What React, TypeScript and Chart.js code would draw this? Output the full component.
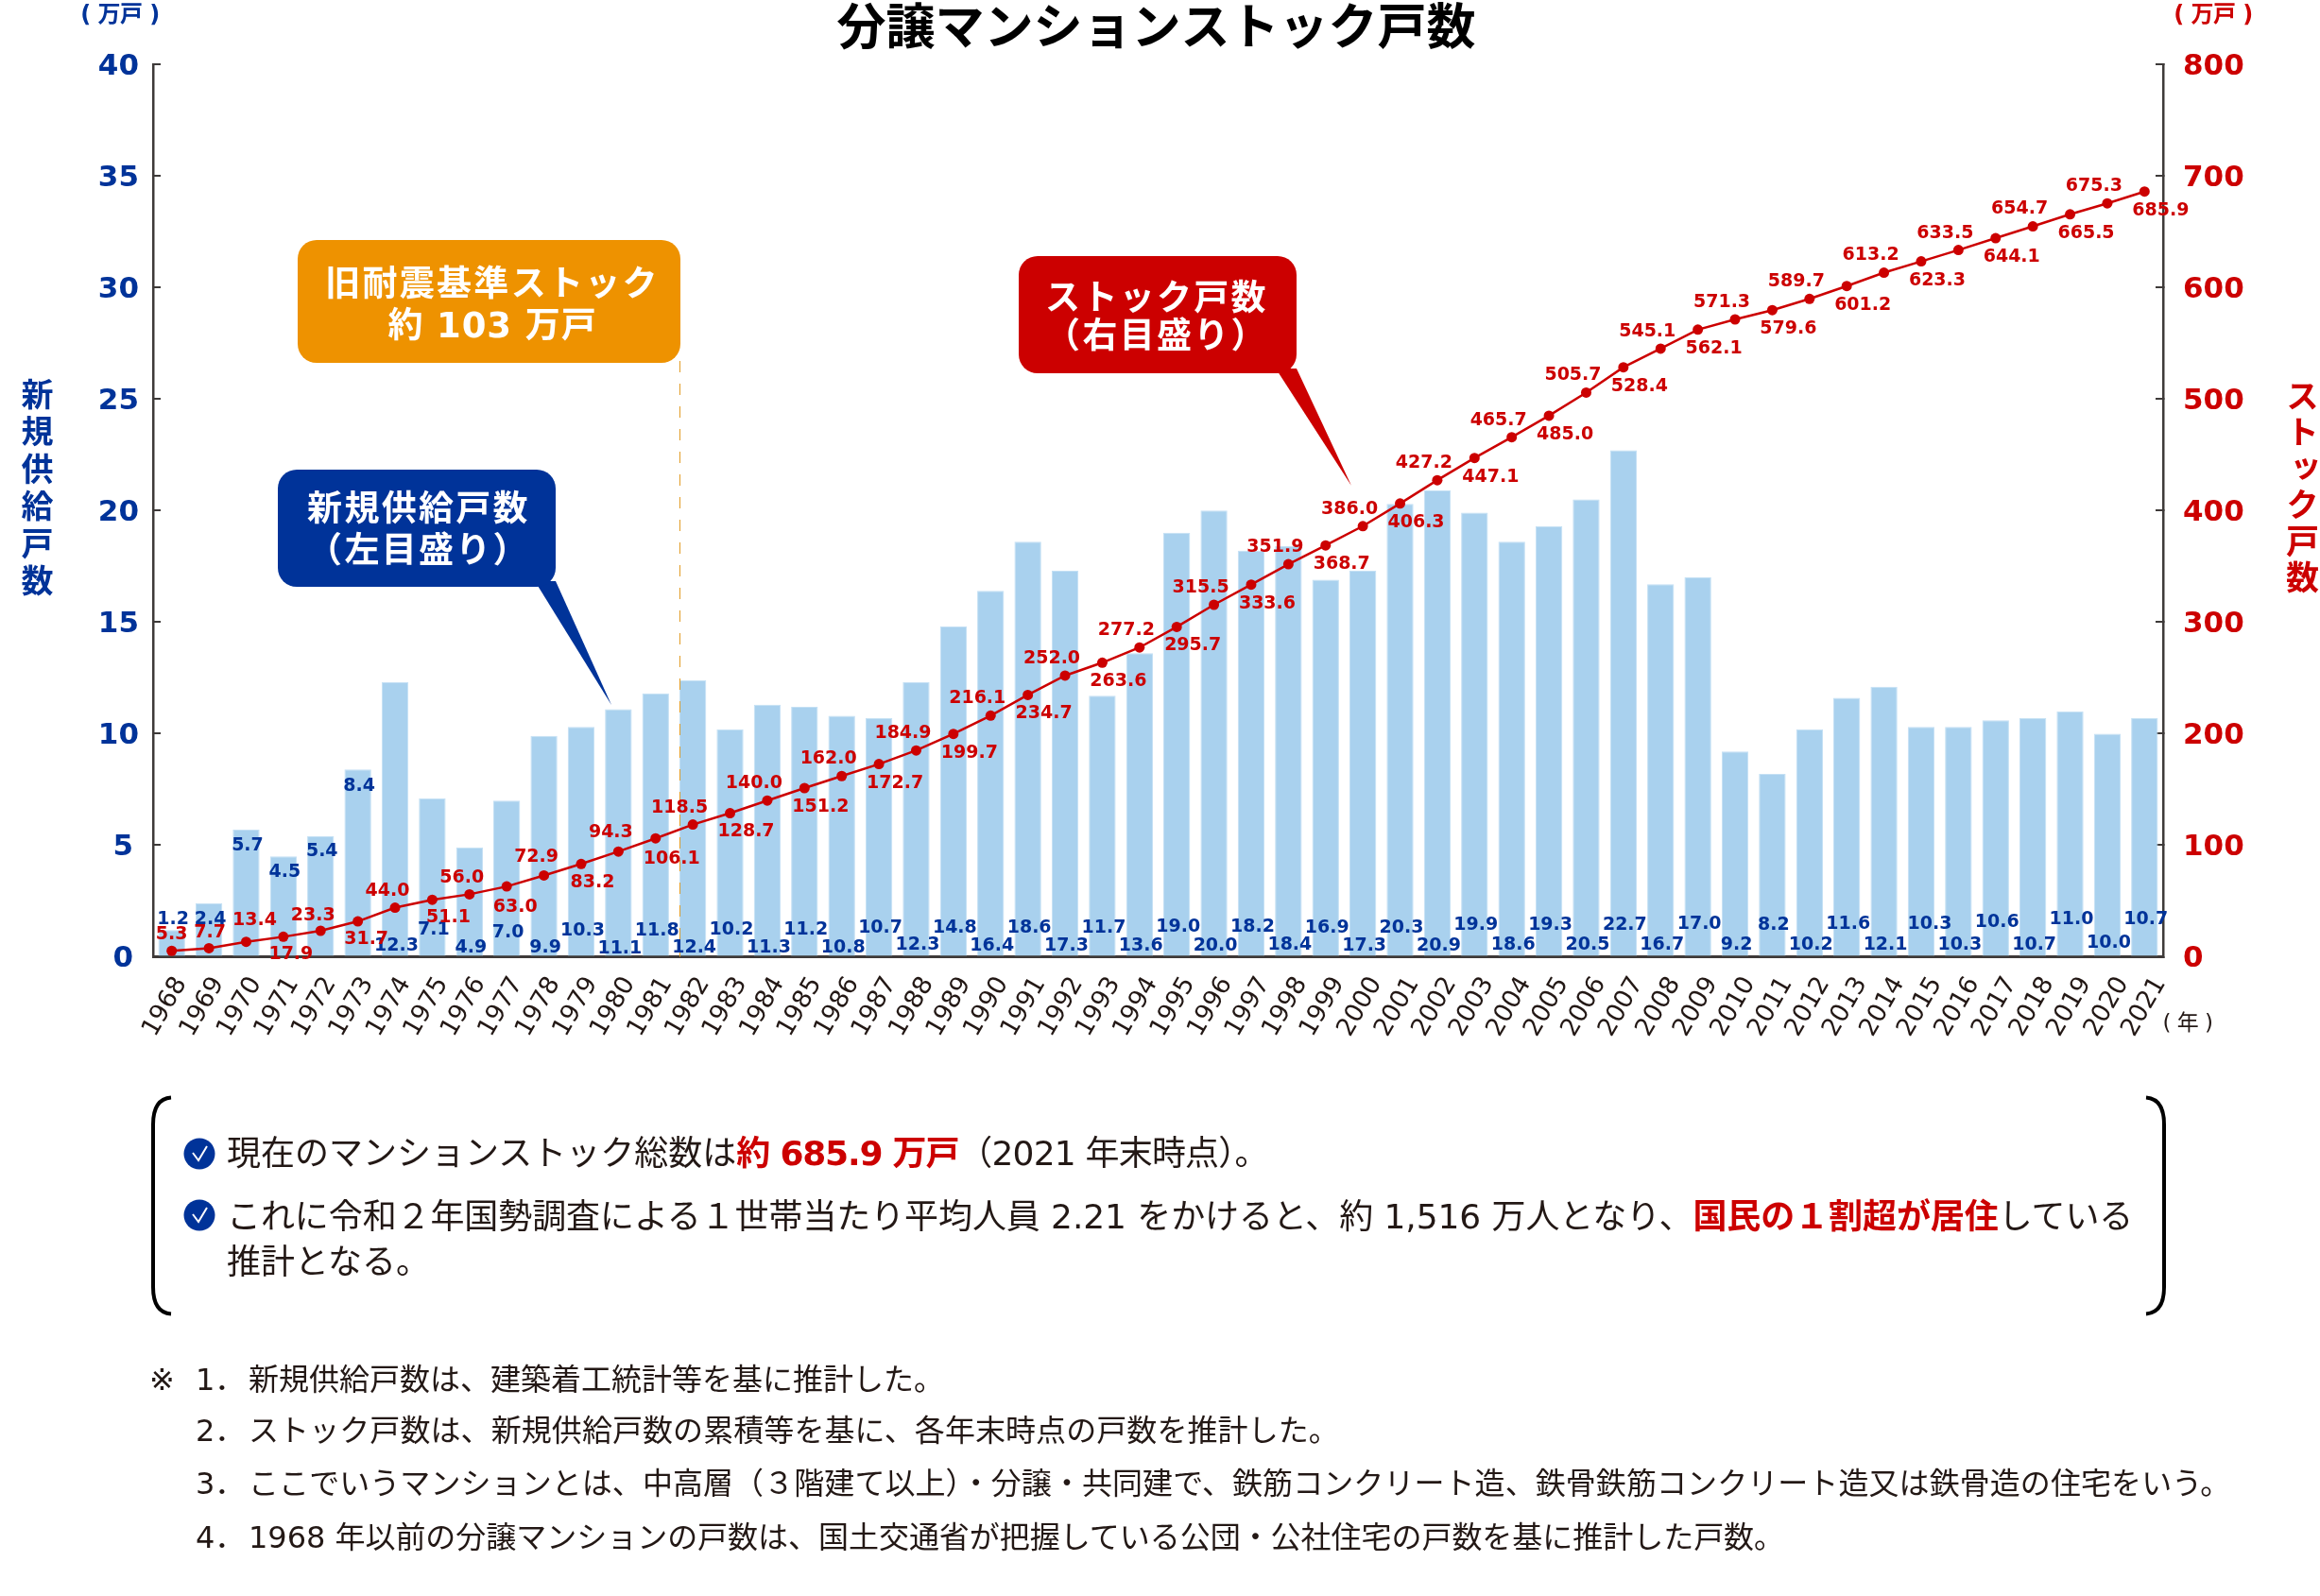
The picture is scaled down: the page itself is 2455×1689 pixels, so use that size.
import React, { useEffect, useRef } from "react";
import { Chart, registerables } from "chart.js";

Chart.register(...registerables);

const years = ["1968","1969","1970","1971","1972","1973","1974","1975","1976","1977","1978","1979","1980","1981","1982","1983","1984","1985","1986","1987","1988","1989","1990","1991","1992","1993","1994","1995","1996","1997","1998","1999","2000","2001","2002","2003","2004","2005","2006","2007","2008","2009","2010","2011","2012","2013","2014","2015","2016","2017","2018","2019","2020","2021"];
const newSupply = [1.2,2.4,5.7,4.5,5.4,8.4,12.3,7.1,4.9,7.0,9.9,10.3,11.1,11.8,12.4,10.2,11.3,11.2,10.8,10.7,12.3,14.8,16.4,18.6,17.3,11.7,13.6,19.0,20.0,18.2,18.4,16.9,17.3,20.3,20.9,19.9,18.6,19.3,20.5,22.7,16.7,17.0,9.2,8.2,10.2,11.6,12.1,10.3,10.3,10.6,10.7,11.0,10.0,10.7];
const stock = [5.3,7.7,13.4,17.9,23.3,31.7,44.0,51.1,56.0,63.0,72.9,83.2,94.3,106.1,118.5,128.7,140.0,151.2,162.0,172.7,184.9,199.7,216.1,234.7,252.0,263.6,277.2,295.7,315.5,333.6,351.9,368.7,386.0,406.3,427.2,447.1,465.7,485.0,505.7,528.4,545.1,562.1,571.3,579.6,589.7,601.2,613.2,623.3,633.5,644.1,654.7,665.5,675.3,685.9];

// Label placement (not data): lift of each blue label above the baseline, in px
const barLabelLift = [39,39,117,89,111,180,11,28,9,25,9,27,8,27,9,28,9,28,9,30,12,30,11,30,11,30,11,31,11,31,12,30,11,30,11,33,12,33,12,33,12,34,12,33,12,34,12,34,12,36,12,39,14,39];
// Label placement: offsets of the first red labels from their points, in px
const stockLabelEarly = [[0,-17],[1,-16],[9,-23],[8,19],[-8,-16],[9,19],[-8,-17],[17,19],[-8,-17],[9,22],[-8,-19],[12,20],[-8,-20],[17,22]];

const LATIN_JP = '"DejaVu Sans","Noto Sans CJK JP"';
const BLUE = "#003399";
const RED = "#CC0000";
const ORANGE = "#EE9200";
const INK = "#231815";

function roundBox(ctx: CanvasRenderingContext2D, x: number, y: number, w: number, h: number, r: number, color: string) {
  ctx.fillStyle = color;
  ctx.beginPath();
  ctx.roundRect(x, y, w, h, r);
  ctx.fill();
}
function tail(ctx: CanvasRenderingContext2D, pts: number[][], color: string) {
  ctx.fillStyle = color;
  ctx.beginPath();
  pts.forEach((p, i) => (i ? ctx.lineTo(p[0], p[1]) : ctx.moveTo(p[0], p[1])));
  ctx.closePath();
  ctx.fill();
}
function boxText(ctx: CanvasRenderingContext2D, lines: string[], cx: number, ys: number[], size: number, spacing: number[] = [2.3, 2.3]) {
  ctx.fillStyle = "#fff";
  ctx.font = `bold ${size}px ${LATIN_JP}`;
  ctx.textAlign = "center";
  ctx.textBaseline = "middle";
  lines.forEach((l, i) => {
    (ctx as any).letterSpacing = `${spacing[i]}px`;
    ctx.fillText(l, cx, ys[i]);
  });
  (ctx as any).letterSpacing = "0px";
}

// nudges axis tick labels relative to their default anchor
function nudgeLabels(s: any, shift: (label: string, i: number) => number[]) {
  if (s.__nudged) return;
  s.__nudged = true;
  const orig = s._computeLabelItems.bind(s);
  s._computeLabelItems = (ca: any) => {
    const items = orig(ca);
    items.forEach((it: any, i: number) => {
      const [dx, dy] = shift(String(it.label), i);
      it.options.translation[0] += dx;
      it.options.translation[1] += dy;
    });
    return items;
  };
}

const annotations = {
  id: "annotations",
  afterDatasetsDraw(chart: any) {
    const { ctx, scales } = chart;
    const xs = scales.x, yL = scales.y, yR = scales.y1;
    ctx.save();
    // dashed marker for the 1982 boundary
    const dashX = Math.round(xs.getPixelForValue(14) - 14) + 0.5;
    ctx.strokeStyle = "#E29C25";
    ctx.lineWidth = 1;
    ctx.setLineDash([12, 12]);
    ctx.beginPath();
    ctx.moveTo(dashX, 382);
    ctx.lineTo(dashX, yL.getPixelForValue(0));
    ctx.stroke();
    ctx.setLineDash([]);

    // data labels
    ctx.font = `bold 19px ${LATIN_JP}`;
    ctx.textAlign = "center";
    ctx.textBaseline = "middle";
    ctx.fillStyle = BLUE;
    newSupply.forEach((v, i) => {
      const dx = i === 47 ? 9 : 1.5;
      ctx.fillText(v.toFixed(1), xs.getPixelForValue(i) + dx, yL.getPixelForValue(0) - barLabelLift[i]);
    });
    ctx.fillStyle = RED;
    stock.forEach((v, i) => {
      const off = stockLabelEarly[i] ?? (i % 2 === 0 ? [-14, -18] : [17, 20]);
      ctx.fillText(v.toFixed(1), xs.getPixelForValue(i) + off[0], yR.getPixelForValue(v) + off[1]);
    });

    // callouts
    tail(ctx, [[566, 615], [588, 615], [647, 746]], BLUE);
    roundBox(ctx, 294, 497, 294, 124, 20, BLUE);
    boxText(ctx, ["新規供給戸数", "（左目盛り）"], 443, [541.5, 585.5], 37);

    roundBox(ctx, 315, 254, 405, 130, 20, ORANGE);
    boxText(ctx, ["旧耐震基準ストック", "約 103 万戸"], 521, [303, 347], 37, [2.3, 0.9]);

    tail(ctx, [[1350, 390], [1372, 390], [1430, 514]], RED);
    roundBox(ctx, 1078, 271, 294, 124, 20, RED);
    boxText(ctx, ["ストック戸数", "（右目盛り）"], 1224, [318.5, 358.5], 37);
    ctx.restore();
  },
};

const abs = (left: number, top: number, extra: React.CSSProperties = {}): React.CSSProperties => ({
  position: "absolute",
  left,
  top,
  whiteSpace: "nowrap",
  lineHeight: 1,
  fontFamily: LATIN_JP,
  color: INK,
  ...extra,
});
const em: React.CSSProperties = { color: RED, fontWeight: 700 };

function Line({ y, x, size = 36, spacing = 0, children }: { y: number; x: number; size?: number; spacing?: number; children: React.ReactNode }) {
  return <div style={abs(x, y - size / 2, { fontSize: size, letterSpacing: spacing })}>{children}</div>;
}

function Check({ cy }: { cy: number }) {
  return (
    <g>
      <circle cx={211} cy={cy} r={16.5} fill={BLUE} />
      <path d={`M204 ${cy - 1} L210 ${cy + 7} L219 ${cy - 8}`} fill="none" stroke="#fff" strokeWidth={2} />
    </g>
  );
}

export default function App() {
  const ref = useRef<HTMLCanvasElement>(null);
  useEffect(() => {
    document.body.style.margin = "0";
    const chart = new Chart(ref.current!, {
      data: {
        labels: years,
        datasets: [
          {
            type: "line",
            label: "ストック戸数",
            data: stock,
            yAxisID: "y1",
            borderColor: RED,
            backgroundColor: RED,
            borderWidth: 2.5,
            pointRadius: 5.5,
            pointBackgroundColor: RED,
            pointBorderWidth: 0,
            tension: 0,
            order: 0,
          },
          {
            type: "bar",
            label: "新規供給戸数",
            data: newSupply,
            yAxisID: "y",
            backgroundColor: "#A9D1EE",
            borderColor: "#C4E0F4",
            borderWidth: 1,
            barPercentage: 0.72,
            categoryPercentage: 1,
            order: 1,
          },
        ],
      } as any,
      options: {
        responsive: false,
        animation: false,
        devicePixelRatio: 1,
        layout: { padding: { left: 0, right: 8, top: 0, bottom: 0 } },
        plugins: {
          legend: { display: false },
          tooltip: { enabled: false },
          title: {
            display: true,
            text: "分譲マンションストック戸数",
            color: "#000",
            font: { family: LATIN_JP, size: 52, weight: "bold", lineHeight: 1.1 },
            padding: { top: 4.5, bottom: 6.3 },
          },
        },
        scales: {
          x: {
            type: "category",
            position: "bottom",
            grid: { display: false },
            border: { display: true, color: "#3E3A39", width: 3 },
            ticks: {
              autoSkip: false,
              minRotation: 60,
              maxRotation: 60,
              padding: 8,
              color: INK,
              font: { family: LATIN_JP, size: 26.5 },
            },
            afterFit: (s: any) => {
              s.height = 676.5;
              nudgeLabels(s, (_l, i) => [10 + i * 0.125, 0]);
            },
          },
          y: {
            position: "left",
            min: 0,
            max: 40,
            grid: { drawOnChartArea: false, drawTicks: true, tickLength: -8, color: "#3E3A39", lineWidth: 2 },
            border: { display: true, color: "#3E3A39", width: 2.5 },
            ticks: { stepSize: 5, padding: 23, color: BLUE, font: { family: LATIN_JP, size: 31, weight: "bold" } },
            afterFit: (s: any) => {
              s.width = 162;
              nudgeLabels(s, (l) => [l.length === 1 ? -6 : 0, 2.5]);
            },
          },
          y1: {
            position: "right",
            min: 0,
            max: 800,
            grid: { drawOnChartArea: false, drawTicks: true, tickLength: -8, color: "#3E3A39", lineWidth: 2 },
            border: { display: true, color: "#3E3A39", width: 2.5 },
            ticks: { stepSize: 100, padding: 29, color: RED, font: { family: LATIN_JP, size: 31, weight: "bold" } },
            afterFit: (s: any) => {
              s.width = 158;
              nudgeLabels(s, () => [0, 2.5]);
            },
          },
        },
      } as any,
      plugins: [annotations],
    });
    return () => chart.destroy();
  }, []);

  return (
    <div style={{ position: "relative", width: 2455, height: 1689, overflow: "hidden", background: "#fff" }}>
      <canvas ref={ref} width={2455} height={1689} style={{ display: "block" }} />

      <div style={abs(127, 3, { transform: "translateX(-50%)", fontSize: 24, color: BLUE, fontWeight: 700, letterSpacing: -0.5 })}>( 万戸 )</div>
      <div style={abs(2342, 3, { transform: "translateX(-50%)", fontSize: 24, color: RED, fontWeight: 700, letterSpacing: -0.5 })}>( 万戸 )</div>
      <div style={abs(2315, 1071, { transform: "translateX(-50%)", fontSize: 23, letterSpacing: -0.5 })}>( 年 )</div>

      <div style={abs(20, 400, { writingMode: "vertical-rl", textOrientation: "upright", fontSize: 34, fontWeight: 700, color: BLUE, letterSpacing: 5.5 })}>新規供給戸数</div>
      <div style={abs(2415, 401, { writingMode: "vertical-rl", textOrientation: "upright", fontSize: 35, fontWeight: 700, color: RED, letterSpacing: 3.5 })}>ストック戸数</div>

      <svg width={2455} height={1689} style={{ position: "absolute", left: 0, top: 0, pointerEvents: "none" }}>
        <path d="M181 1161.5 Q162 1163 162 1190 V1362 Q162 1389 181 1390.5" fill="none" stroke="#000" strokeWidth={4} />
        <path d="M2271 1161.5 Q2290 1163 2290 1190 V1362 Q2290 1389 2271 1390.5" fill="none" stroke="#000" strokeWidth={4} />
        <Check cy={1221} />
        <Check cy={1286} />
      </svg>

      <Line x={240} y={1221}>現在のマンションストック総数は<span style={{ ...em, letterSpacing: -1.2 }}>約 685.9 万戸</span><span style={{ letterSpacing: -0.8 }}>（2021 年末時点）。</span></Line>
      <Line x={240} y={1287.5} spacing={-0.09}>これに令和２年国勢調査による１世帯当たり平均人員 2.21 をかけると、約 1,516 万人となり、<span style={em}>国民の１割超が居住</span>している</Line>
      <Line x={240} y={1335.5}>推計となる。</Line>

      <Line x={158} y={1460} size={32}>※</Line>
      <Line x={207} y={1460} size={32}>1．</Line>
      <Line x={263} y={1460} size={32}>新規供給戸数は、建築着工統計等を基に推計した。</Line>
      <Line x={207} y={1514} size={32}>2．</Line>
      <Line x={263} y={1514} size={32} spacing={0.08}>ストック戸数は、新規供給戸数の累積等を基に、各年末時点の戸数を推計した。</Line>
      <Line x={207} y={1570} size={32}>3．</Line>
      <Line x={263} y={1570} size={32} spacing={0.07}>ここでいうマンションとは、中高層（３階建て以上）・分譲・共同建で、鉄筋コンクリート造、鉄骨鉄筋コンクリート造又は鉄骨造の住宅をいう。</Line>
      <Line x={207} y={1627} size={32}>4．</Line>
      <Line x={263} y={1627} size={32} spacing={-0.03}>1968 年以前の分譲マンションの戸数は、国土交通省が把握している公団・公社住宅の戸数を基に推計した戸数。</Line>
    </div>
  );
}
